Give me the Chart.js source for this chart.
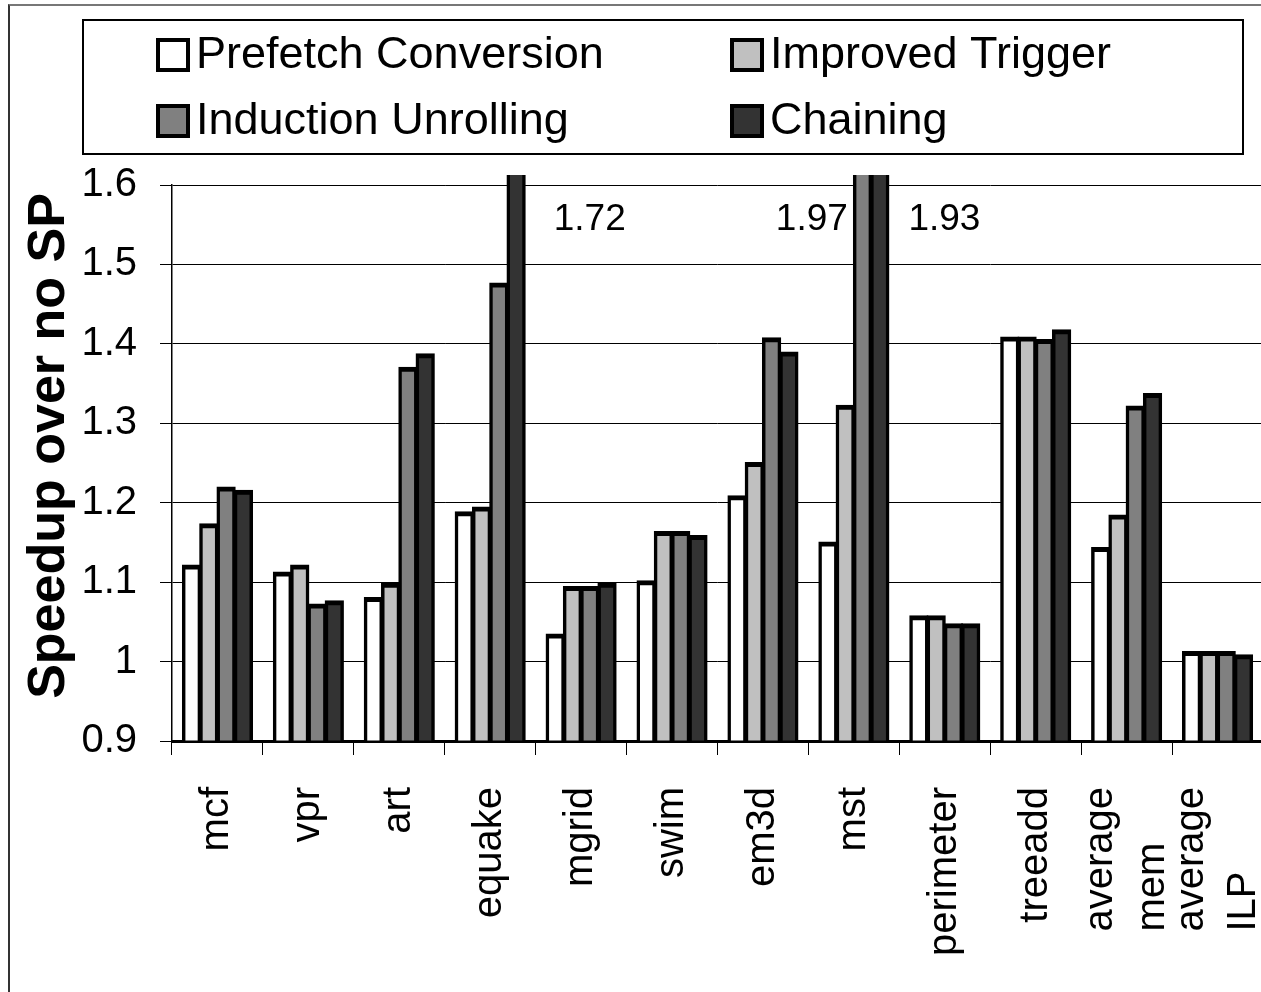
<!DOCTYPE html>
<html>
<head>
<meta charset="utf-8">
<script src="https://cdn.jsdelivr.net/npm/chart.js@4.4.1/dist/chart.umd.min.js"></script>
<style>
  html, body { margin: 0; padding: 0; background: #fff; overflow: hidden; }
  #frame { position: absolute; left: 8px; top: 4px; width: 1400px; height: 1100px;
           border-left: 2px solid #333; border-top: 2px solid #777; }
  #chart { position: absolute; left: 0; top: 0; }
</style>
</head>
<body>
<div id="frame"></div>
<canvas id="chart" width="1275" height="992"></canvas>
<script>
// benchmarks on the x axis (arrays = two-line labels)
const categories = ['mcf', 'vpr', 'art', 'equake', 'mgrid', 'swim', 'em3d', 'mst',
  'perimeter', 'treeadd', ['average', 'mem'], ['average', 'ILP']];

const seriesNames = ['Prefetch Conversion', 'Improved Trigger', 'Induction Unrolling', 'Chaining'];
const seriesColors = ['#ffffff', '#c0c0c0', '#808080', '#333333'];

// speedup values; bars above 1.6 are cut at the top
const prefetchConversion = [1.121, 1.112, 1.080, 1.188, 1.034, 1.101, 1.208, 1.150, 1.057, 1.408, 1.143, 1.012];
const improvedTrigger    = [1.173, 1.121, 1.098, 1.194, 1.094, 1.163, 1.250, 1.322, 1.057, 1.408, 1.184, 1.012];
const inductionUnrolling = [1.219, 1.072, 1.370, 1.476, 1.094, 1.163, 1.407, 1.97, 1.047, 1.405, 1.321, 1.012];
const chaining           = [1.215, 1.076, 1.387, 1.72, 1.098, 1.158, 1.389, 1.93, 1.047, 1.417, 1.337, 1.008];

const yMin = 0.9, yMax = 1.6, yStep = 0.1;
const yTitle = 'Speedup over no SP';

// values of the clipped bars written in the plot: [series, category]
const offScaleLabels = [[3, 3], [2, 7], [3, 7]];

const FONT = "'Liberation Sans', Arial, sans-serif";

const legendBox = {
  id: 'legendBox',
  afterDraw(chart) {
    const ctx = chart.ctx;
    ctx.save();
    ctx.strokeStyle = '#000';
    ctx.lineWidth = 2;
    ctx.strokeRect(83, 20, 1160, 134);
    ctx.font = '45px ' + FONT;
    ctx.textBaseline = 'middle';
    chart.data.datasets.forEach((ds, i) => {
      const x = i % 2 === 0 ? 158 : 732;
      const y = i < 2 ? 55 : 121;
      ctx.fillStyle = ds.backgroundColor;
      ctx.fillRect(x, y - 15, 30, 30);
      ctx.lineWidth = 4;
      ctx.strokeRect(x, y - 15, 30, 30);
      ctx.fillStyle = '#000';
      ctx.textAlign = 'left';
      ctx.fillText(ds.label, x + 38, y + 1);
    });
    ctx.restore();
  }
};

// rotated category names and the y axis title
const axisText = {
  id: 'axisText',
  afterDraw(chart) {
    const ctx = chart.ctx;
    const xs = chart.scales.x;
    const top = chart.chartArea.bottom + 46;
    ctx.save();
    ctx.font = '40px ' + FONT;
    ctx.fillStyle = '#000';
    ctx.textBaseline = 'middle';
    chart.data.labels.forEach((lab, i) => {
      const lines = Array.isArray(lab) ? lab : [lab];
      const w = Math.max(...lines.map(l => ctx.measureText(l).width));
      const x = xs.getPixelForValue(i);
      ctx.save();
      ctx.translate(x, top);
      ctx.rotate(-Math.PI / 2);
      lines.forEach((l, k) => {
        ctx.textAlign = 'left';
        ctx.fillText(l, -w, (k - (lines.length - 1) / 2) * 52);
      });
      ctx.restore();
    });
    ctx.font = 'bold 52px ' + FONT;
    ctx.textAlign = 'center';
    ctx.translate(50, 446);
    ctx.rotate(-Math.PI / 2);
    ctx.fillText(yTitle, 0, 0);
    ctx.restore();
  }
};

const valueLabels = {
  id: 'valueLabels',
  afterDatasetsDraw(chart) {
    const ctx = chart.ctx;
    ctx.save();
    ctx.font = '37px ' + FONT;
    ctx.fillStyle = '#000';
    ctx.textBaseline = 'middle';
    const y = chart.chartArea.top + 35;
    offScaleLabels.forEach(([d, i]) => {
      const bar = chart.getDatasetMeta(d).data[i];
      const v = chart.data.datasets[d].data[i].toFixed(2);
      if (d === 2) {
        ctx.textAlign = 'right';
        ctx.fillText(v, bar.x - bar.width / 2 - 6, y);
      } else {
        ctx.textAlign = 'left';
        ctx.fillText(v, bar.x + bar.width / 2 + (i === 3 ? 29 : 20), y);
      }
    });
    ctx.restore();
  }
};

const seriesData = [prefetchConversion, improvedTrigger, inductionUnrolling, chaining];

new Chart(document.getElementById('chart'), {
  type: 'bar',
  data: {
    labels: categories,
    datasets: seriesNames.map((name, i) => ({
      label: name,
      data: seriesData[i],
      base: yMin,
      backgroundColor: seriesColors[i],
      borderColor: '#000',
      borderWidth: { top: 5, left: 3.5, right: 3.5, bottom: 0 },
      borderSkipped: false,
      inflateAmount: 1,
      barPercentage: 1,
      categoryPercentage: 0.76,
      clip: { left: false, top: 10, right: false, bottom: 2 }
    }))
  },
  options: {
    responsive: false,
    animation: false,
    layout: { padding: { left: 0, right: 12, top: 185, bottom: 0 } },
    plugins: { legend: { display: false }, tooltip: { enabled: false } },
    scales: {
      x: {
        offset: true,
        grid: { offset: true, drawOnChartArea: false, tickLength: 14, color: '#000', lineWidth: 1 },
        border: { color: '#000', width: 3 },
        ticks: { display: false },
        afterFit: s => { s.height = 251; }
      },
      y: {
        min: yMin,
        max: yMax,
        ticks: {
          stepSize: yStep,
          padding: 23,
          color: '#000',
          font: { family: FONT, size: 40 },
          callback: v => String(+v.toFixed(1))
        },
        grid: { color: '#000', lineWidth: 1, tickLength: 12 },
        border: { color: '#000', width: 1.5 },
        afterFit: s => { s.width = 172; }
      }
    }
  },
  plugins: [legendBox, axisText, valueLabels]
});
</script>
</body>
</html>
